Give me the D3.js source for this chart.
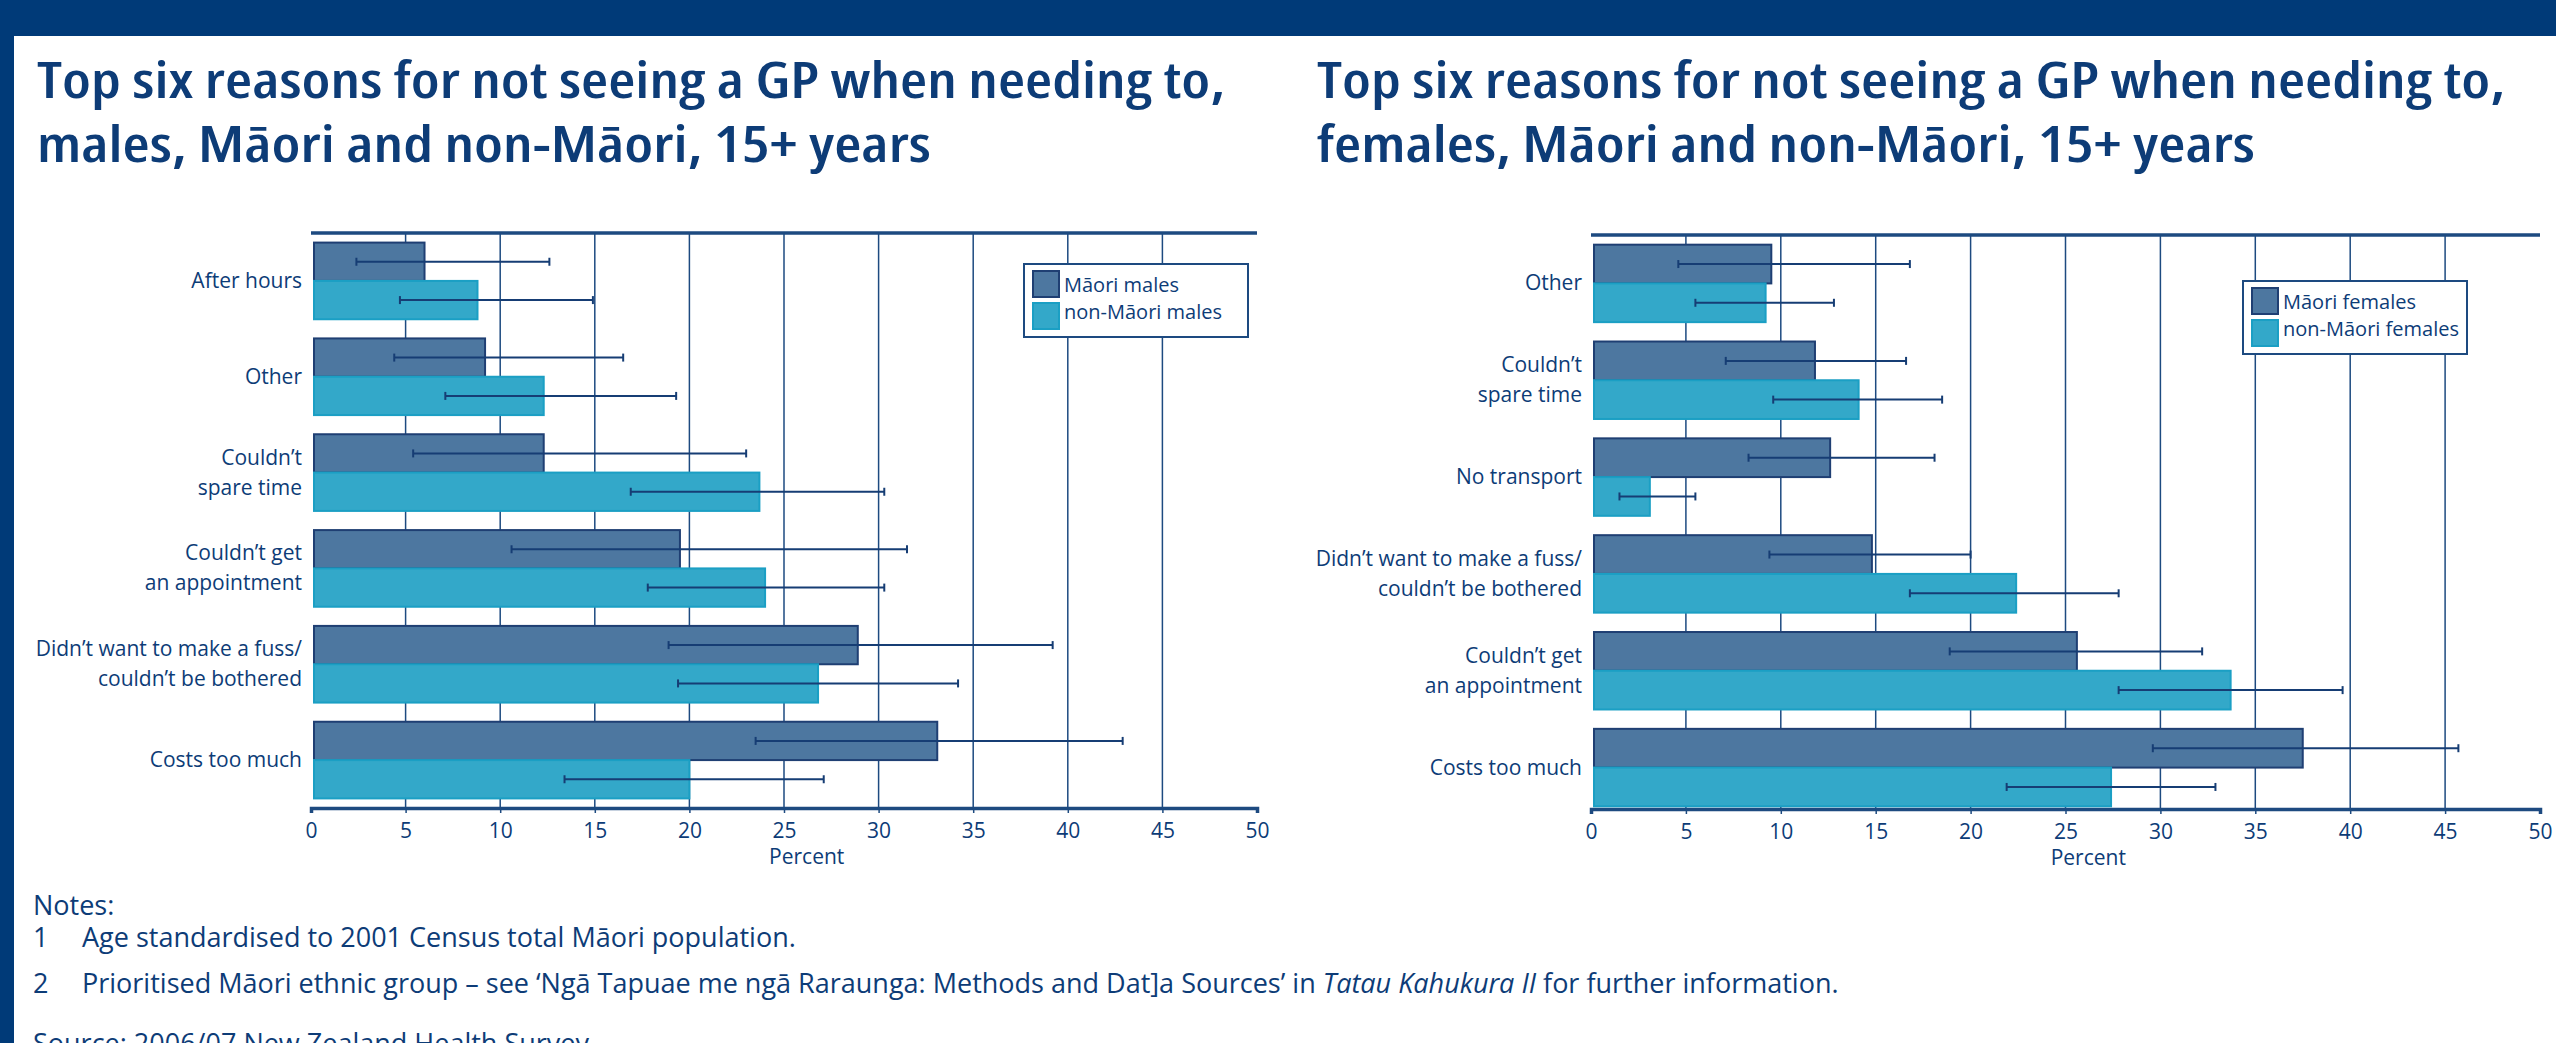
<!DOCTYPE html>
<html>
<head>
<meta charset="utf-8">
<script src="https://cdn.jsdelivr.net/npm/d3@7"></script>
<style>
  body { margin: 0; background: #fff; }
  svg text { font-family: "Open Sans", "Noto Sans", sans-serif; fill: #0d3c77; }
</style>
</head>
<body>
<div id="container"></div>
<script>
// categories (top to bottom), one label line per entry
const malesCategories = [
  ['After hours'],
  ['Other'],
  ['Couldn\u2019t', 'spare time'],
  ['Couldn\u2019t get', 'an appointment'],
  ['Didn\u2019t want to make a fuss/', 'couldn\u2019t be bothered'],
  ['Costs too much'],
];
const malesMaori = [6.0, 9.2, 12.3, 19.5, 28.9, 33.1];
const malesMaoriLo = [2.4, 4.4, 5.4, 10.6, 18.9, 23.5];
const malesMaoriHi = [12.6, 16.5, 23.0, 31.5, 39.2, 42.9];
const malesNon = [8.8, 12.3, 23.7, 24.0, 26.8, 20.0];
const malesNonLo = [4.7, 7.1, 16.9, 17.8, 19.4, 13.4];
const malesNonHi = [14.9, 19.3, 30.3, 30.3, 34.2, 27.1];

const femalesCategories = [
  ['Other'],
  ['Couldn\u2019t', 'spare time'],
  ['No transport'],
  ['Didn\u2019t want to make a fuss/', 'couldn\u2019t be bothered'],
  ['Couldn\u2019t get', 'an appointment'],
  ['Costs too much'],
];
const femalesMaori = [9.5, 11.8, 12.6, 14.8, 25.6, 37.5];
const femalesMaoriLo = [4.6, 7.1, 8.3, 9.4, 18.9, 29.6];
const femalesMaoriHi = [16.8, 16.6, 18.1, 20.0, 32.2, 45.7];
const femalesNon = [9.2, 14.1, 3.1, 22.4, 33.7, 27.4];
const femalesNonLo = [5.5, 9.6, 1.5, 16.8, 27.8, 21.9];
const femalesNonHi = [12.8, 18.5, 5.5, 27.8, 39.6, 32.9];

const xTicks = [0, 5, 10, 15, 20, 25, 30, 35, 40, 45, 50];

const width = 2556;
const height = 1043;
const navy = '#003a78';
const lineColor = '#1d4a80';
const maoriFill = '#4d77a0', maoriStroke = '#1f3f73';
const nonFill = '#33a8c9', nonStroke = '#1b9fc4';

const svg = d3.select('#container')
  .append('svg')
  .attr('width', width)
  .attr('height', height);

// frame: top band + left strip
svg.append('rect').attr('x', 0).attr('y', 0).attr('width', width).attr('height', 36).attr('fill', navy);
svg.append('rect').attr('x', 0).attr('y', 0).attr('width', 14).attr('height', height).attr('fill', navy);

function panel(opts) {
  const {titleX, title1, title2, w1, w2, x0, x1, top, bottom, bandBottom,
    cats, maori, maoriLo, maoriHi, non, nonLo, nonHi, legend} = opts;

  const g = svg.append('g');

  // title (one text, two lines)
  const title = g.append('text')
    .attr('font-size', 50).attr('font-weight', 600)
    .style('font-stretch', '87.5%');
  title.append('tspan').attr('x', titleX).attr('y', 98)
    .attr('textLength', w1).attr('lengthAdjust', 'spacingAndGlyphs')
    .text(title1);
  title.append('tspan').attr('x', titleX).attr('y', 162)
    .attr('textLength', w2).attr('lengthAdjust', 'spacingAndGlyphs')
    .text(title2);

  const x = d3.scaleLinear().domain([0, 50]).range([x0, x1]);
  const y0 = d3.scaleBand().domain(d3.range(cats.length))
    .range([top, bandBottom]).paddingInner(0.2).paddingOuter(0.1);
  const y1 = d3.scaleBand().domain(['maori', 'non']).range([0, y0.bandwidth()]);

  // gridlines
  g.selectAll('.grid')
    .data(xTicks.filter(t => t > 0 && t < 50))
    .enter()
    .append('line')
    .attr('x1', d => x(d)).attr('x2', d => x(d))
    .attr('y1', top).attr('y2', bottom)
    .attr('stroke', lineColor).attr('stroke-width', 1.5);

  // bottom axis
  const axis = g.append('g')
    .attr('transform', `translate(0,${bottom})`)
    .call(d3.axisBottom(x).tickValues(xTicks).tickSize(5).tickPadding(10));
  axis.select('.domain').attr('stroke', lineColor).attr('stroke-width', 3.5);
  axis.selectAll('.tick line').attr('stroke', lineColor).attr('stroke-width', 1.5);
  axis.selectAll('.tick text').attr('font-size', 21).attr('fill', navy)
    .attr('font-family', '"Open Sans", sans-serif');

  // top line
  g.append('line').attr('x1', x(0)).attr('x2', x(50))
    .attr('y1', top).attr('y2', top)
    .attr('stroke', lineColor).attr('stroke-width', 3.5);

  g.append('text').attr('x', x(26.2)).attr('y', bottom + 56)
    .attr('text-anchor', 'middle').attr('font-size', 21)
    .text('Percent');

  // bars
  const rows = cats.map((c, i) => ([
    {i, key: 'maori', v: maori[i], lo: maoriLo[i], hi: maoriHi[i]},
    {i, key: 'non', v: non[i], lo: nonLo[i], hi: nonHi[i]},
  ])).flat();

  g.selectAll('.bar')
    .data(rows)
    .enter()
    .append('rect')
    .attr('x', x(0) + 3)
    .attr('y', d => y0(d.i) + y1(d.key))
    .attr('width', d => x(d.v) - x(0) - 3)
    .attr('height', y1.bandwidth())
    .attr('fill', d => d.key == 'maori' ? maoriFill : nonFill)
    .attr('stroke', d => d.key == 'maori' ? maoriStroke : nonStroke)
    .attr('stroke-width', 2);

  // error bars
  const eb = g.selectAll('.err')
    .data(rows)
    .enter()
    .append('g')
    .attr('transform', d => `translate(0,${y0(d.i) + y1(d.key) + y1.bandwidth() / 2})`);
  eb.append('line')
    .attr('x1', d => x(d.lo)).attr('x2', d => x(d.hi))
    .attr('y1', 0).attr('y2', 0)
    .attr('stroke', '#163d74').attr('stroke-width', 2);
  eb.append('line')
    .attr('x1', d => x(d.lo)).attr('x2', d => x(d.lo))
    .attr('y1', -4).attr('y2', 4)
    .attr('stroke', '#163d74').attr('stroke-width', 2);
  eb.append('line')
    .attr('x1', d => x(d.hi)).attr('x2', d => x(d.hi))
    .attr('y1', -4).attr('y2', 4)
    .attr('stroke', '#163d74').attr('stroke-width', 2);

  // category labels
  const lab = g.selectAll('.lab')
    .data(cats)
    .enter()
    .append('text')
    .attr('text-anchor', 'end')
    .attr('font-size', 21)
    .attr('y', (d, i) => y0(i) + y0.bandwidth() / 2);
  lab.selectAll('tspan')
    .data(d => d.map((t, k) => ({t, k, n: d.length})))
    .enter()
    .append('tspan')
    .attr('x', x(0) - 9)
    .attr('dy', d => d.k == 0 ? (d.n == 1 ? 7 : -8) : 30)
    .text(d => d.t);

  // legend
  const lg = g.append('g');
  lg.append('rect')
    .attr('x', legend.x).attr('y', legend.y)
    .attr('width', legend.w).attr('height', 73)
    .attr('fill', '#fff').attr('stroke', lineColor).attr('stroke-width', 2);
  legend.labels.forEach((t, k) => {
    lg.append('rect')
      .attr('x', legend.x + 9).attr('y', legend.y + 7 + k * 32)
      .attr('width', 26).attr('height', 26)
      .attr('fill', k == 0 ? maoriFill : nonFill)
      .attr('stroke', k == 0 ? maoriStroke : nonStroke).attr('stroke-width', 2);
    lg.append('text')
      .attr('x', legend.x + 40).attr('y', legend.y + 28 + k * 27)
      .attr('font-size', 20)
      .text(t);
  });
}

panel({
  titleX: 37,
  title1: 'Top six reasons for not seeing a GP when needing to,',
  title2: 'males, M\u0101ori and non-M\u0101ori, 15+ years',
  w1: 1188, w2: 894,
  x0: 311, x1: 1257, top: 233, bottom: 808, bandBottom: 808,
  cats: malesCategories,
  maori: malesMaori, maoriLo: malesMaoriLo, maoriHi: malesMaoriHi,
  non: malesNon, nonLo: malesNonLo, nonHi: malesNonHi,
  legend: {x: 1024, y: 264, w: 224, labels: ['M\u0101ori males', 'non-M\u0101ori males']},
});

panel({
  titleX: 1317,
  title1: 'Top six reasons for not seeing a GP when needing to,',
  title2: 'females, M\u0101ori and non-M\u0101ori, 15+ years',
  w1: 1188, w2: 938,
  x0: 1591, x1: 2540, top: 235, bottom: 809, bandBottom: 816,
  cats: femalesCategories,
  maori: femalesMaori, maoriLo: femalesMaoriLo, maoriHi: femalesMaoriHi,
  non: femalesNon, nonLo: femalesNonLo, nonHi: femalesNonHi,
  legend: {x: 2243, y: 281, w: 224, labels: ['M\u0101ori females', 'non-M\u0101ori females']},
});

// notes
const notes = svg.append('g');
notes.append('text').attr('x', 33).attr('y', 915).attr('font-size', 27).text('Notes:');
notes.append('text').attr('x', 33).attr('y', 947).attr('font-size', 27).text('1');
notes.append('text').attr('x', 82).attr('y', 947).attr('font-size', 27)
  .text('Age standardised to 2001 Census total M\u0101ori population.');
notes.append('text').attr('x', 33).attr('y', 993).attr('font-size', 27).text('2');
const n2 = notes.append('text').attr('x', 82).attr('y', 993).attr('font-size', 27);
n2.append('tspan').text('Prioritised M\u0101ori ethnic group \u2013 see \u2018Ng\u0101 Tapuae me ng\u0101 Raraunga: Methods and Dat]a Sources\u2019 in ');
n2.append('tspan').attr('font-style', 'italic').text('Tatau Kahukura II');
n2.append('tspan').text(' for further information.');
// source line sits at the bottom edge, partly cut off as in the reference
notes.append('text').attr('x', 33).attr('y', 1053).attr('font-size', 27)
  .text('Source: 2006/07 New Zealand Health Survey.');
</script>
</body>
</html>
